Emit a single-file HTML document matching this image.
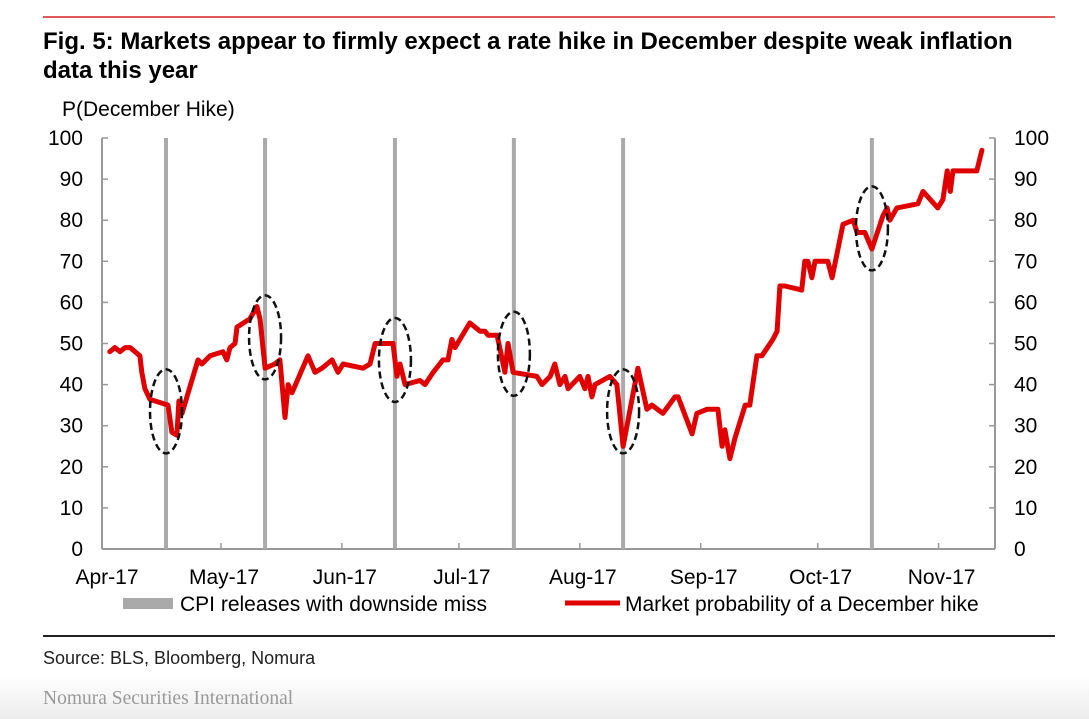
<!DOCTYPE html>
<html><head><meta charset="utf-8">
<style>
body{margin:0;background:#fff;width:1089px;height:719px;overflow:hidden;position:relative;font-family:"Liberation Sans",Arial,sans-serif;}
.t{position:absolute;white-space:nowrap;color:#000;}
</style></head>
<body>
<div style="position:absolute;left:43px;top:16px;width:1012px;height:2px;background:#e05a5a"></div>
<div class="t" style="left:43px;top:27px;font-size:24px;font-weight:bold;line-height:29px">Fig. 5: Markets appear to firmly expect a rate hike in December despite weak inflation<br>data this year</div>
<div class="t" style="left:62px;top:98px;font-size:21px">P(December Hike)</div>
<svg width="1089" height="719" style="position:absolute;left:0;top:0">
<g id="g"></g>
</svg>
<div style="position:absolute;left:43px;top:635px;width:1012px;height:2px;background:#222"></div>
<div class="t" style="left:43px;top:648px;font-size:18px;color:#222">Source: BLS, Bloomberg, Nomura</div>
<div style="position:absolute;left:0;top:675px;width:1089px;height:44px;background:linear-gradient(#fff,#ececec)"></div>
<div class="t" style="left:43px;top:688px;font-size:19.5px;color:#999;font-family:'Liberation Serif',serif">Nomura Securities International</div>
<script>
const yTicks=[0,10,20,30,40,50,60,70,80,90,100];
const months=["Apr-17","May-17","Jun-17","Jul-17","Aug-17","Sep-17","Oct-17","Nov-17"];
const monthDays=[0,30,61,91,122,153,183,214];
const cpiDays=[15.9,41.3,74.6,105.1,133.1,196.9];
const ellipseCenters=[33.5,51.5,46,47.5,33.5,78];
const days=[1.5,2.8,4.1,5.4,6.7,9.2,9.7,10.5,11.8,16.4,17.4,18.7,19.2,20,24.1,25.1,27.2,30.5,31.5,32.3,33.6,34.1,37.4,39.2,40,41.3,43.8,45.1,46.4,47.2,48.2,52.3,54.1,55.9,58.5,60,61.3,66.4,68.2,69.5,74.1,75.1,75.9,77.2,81,82.3,84.4,86.9,88.2,89.2,90,93.8,96.4,97.7,98.5,100.8,102.8,103.6,104.9,111,112.3,114.4,115.6,116.9,118.2,119,122,123.3,124.1,125.1,125.9,129.7,131.5,133.1,136.9,139.2,140.5,143.3,146.4,147.2,150.8,152,154.6,157.4,158.5,159.2,160.5,161.8,164.4,165.6,167.4,168.7,171.5,172.6,173.3,174.6,178.9,179.7,180.5,181.5,182.3,185.6,186.7,189.5,192.1,193.1,195.1,196.9,199.7,200.8,201.5,203.3,208.7,210,213.8,215.1,216.2,217,217.7,223.8,225.1];
const probs=[48,49,48,49,49,47,43,39,36.4,35,28.4,27.7,36,33,46,45,47,48,46,49,50,54,56,59,56,44,45,46,32,40,38,47,43,44,46,43,45,44,45,50,50,42,45,40,41,40,43,46,46,51,49,55,53,53,52,52,43,50,43,42,40,42,45,40,42,39,42,39,42,37,40,42,40,25,44,34,35,33,37,37,28,33,34,34,25,29,22,27,35,35,47,47,51,53,64,64,63,70,70,66,70,70,66,79,80,77,77,73,81,83,80,83,84,87,83,85,92,87,92,92,97];
const X0=104,XS=3.9,Y0=549,YS=4.11;
const xs=d=>X0+d*XS, ys=v=>Y0-v*YS;
const g=document.getElementById('g');const NS='http://www.w3.org/2000/svg';
function mk(t,a){const e=document.createElementNS(NS,t);for(const k in a)e.setAttribute(k,a[k]);g.appendChild(e);return e;}
let e=mk('line',{x1:102,y1:ys(100),x2:102,y2:Y0,stroke:'#999','stroke-width':2});

e=mk('line',{x1:995,y1:ys(100),x2:995,y2:Y0,stroke:'#999','stroke-width':2});

e=mk('line',{x1:102,y1:Y0,x2:995,y2:Y0,stroke:'#999','stroke-width':2});

yTicks.forEach(v=>{const y=ys(v);
 mk('line',{x1:102,y1:y,x2:108,y2:y,stroke:'#999','stroke-width':1.5});
 mk('line',{x1:989,y1:y,x2:995,y2:y,stroke:'#999','stroke-width':1.5});
 let t=mk('text',{x:83,y:y+7,'text-anchor':'end','font-size':21});t.textContent=v;
 
 t=mk('text',{x:1014,y:y+7,'font-size':21});t.textContent=v;
 
});
months.forEach((m,i)=>{const x=xs(monthDays[i]);
 if(i>0)mk('line',{x1:x,y1:Y0,x2:x,y2:Y0-6,stroke:'#999','stroke-width':1.5});
 const t=mk('text',{x:x+3,y:584,'text-anchor':'middle','font-size':21});t.textContent=m;
 
});
cpiDays.forEach(d=>{const l=mk('line',{x1:xs(d),y1:ys(100),x2:xs(d),y2:Y0,stroke:'#aaa','stroke-width':4});
 });
let pts=days.map((d,i)=>xs(d).toFixed(1)+','+ys(probs[i]).toFixed(1)).join(' ');
e=mk('polyline',{points:pts,fill:'none',stroke:'#e00000','stroke-width':5,'stroke-linejoin':'round','stroke-linecap':'round'});

cpiDays.forEach((d,i)=>{const el=mk('ellipse',{cx:xs(d),cy:ys(ellipseCenters[i]),rx:16,ry:42,fill:'none',stroke:'#111','stroke-width':2.5,'stroke-dasharray':'7,4'});
 });
e=mk('rect',{x:123,y:598,width:50,height:11,fill:'#aaa'});

let t=mk('text',{x:180,y:611,'font-size':21});t.textContent='CPI releases with downside miss';

e=mk('line',{x1:565,y1:603,x2:620,y2:603,stroke:'#e00000','stroke-width':5});

t=mk('text',{x:625,y:611,'font-size':21});t.textContent='Market probability of a December hike';

</script>
</body></html>
